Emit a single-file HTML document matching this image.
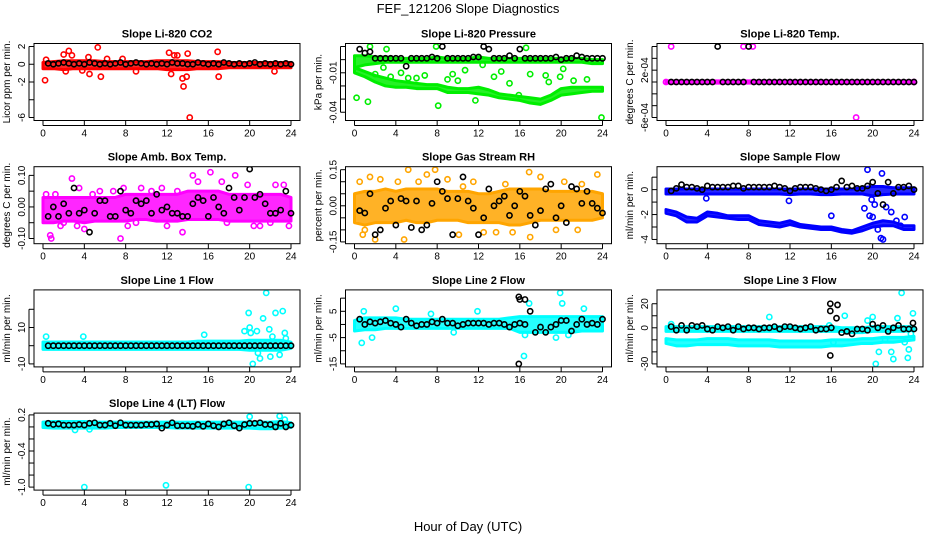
<!DOCTYPE html>
<html><head><meta charset="utf-8">
<style>
html,body{margin:0;padding:0;background:#fff;}
svg{display:block;font-family:"Liberation Sans",sans-serif;}
</style></head>
<body>
<svg id="fig" width="936" height="540" viewBox="0 0 936 540" xmlns="http://www.w3.org/2000/svg">
<text x="468" y="13" text-anchor="middle" font-size="13">FEF_121206  Slope Diagnostics</text>
<text x="468" y="531" text-anchor="middle" font-size="13">Hour of Day (UTC)</text>
</svg>
<script>
// ---------- shared categories ----------
const bandHours = [0,1,2,3,4,5,6,7,8,9,10,11,12,13,14,15,16,17,18,19,20,21,22,23,24];
const xTicks = [0,4,8,12,16,20,24];

// ---------- CO2 ----------
const co2Lo = [-0.5,-0.5,-0.6,-0.5,-0.5,-0.5,-0.5,-0.5,-0.5,-0.5,-0.5,-0.5,-0.6,-0.6,-0.6,-0.5,-0.5,-0.5,-0.4,-0.4,-0.4,-0.4,-0.4,-0.4,-0.4];
const co2Hi = [0.2,0.3,0.4,0.4,0.4,0.4,0.3,0.3,0.3,0.3,0.3,0.4,0.4,0.4,0.4,0.3,0.3,0.3,0.2,0.2,0.2,0.2,0.2,0.2,0.2];
const co2OutX = [0.2,0.3,2.0,2.5,2.8,2.2,4.4,4.5,5.3,5.6,7.7,12.2,12.4,12.7,13.0,13.5,13.6,14.0,14.2,13.9,16.9,17.0,22.4,9.0,3.8,6.2];
const co2OutY = [-1.8,0.5,1.1,1.5,1.0,-0.8,0.8,-1.1,1.9,-1.4,0.6,1.3,-1.1,1.0,1.0,-1.6,-2.5,1.2,-6.0,-1.4,1.4,-1.4,-0.8,-0.8,-0.7,0.6];
const co2Black = [0.1,0.0,0.1,0.2,0.1,0.0,0.1,0.0,0.2,0.1,0.0,0.1,0.0,0.1,0.2,0.0,0.1,0.2,0.1,0.0,0.1,0.0,0.1,0.0,0.2,0.1,0.1,0.0,0.0,0.2,0.1,0.0,0.1,0.0,0.2,0.1,0.0,0.1,0.0,0.1,0.2,0.0,0.1,0.0,0.1,0.0,0.1,0.0];

// ---------- Pressure ----------
const presLo = [-0.006,-0.004,-0.003,-0.002,-0.002,-0.002,-0.002,-0.002,-0.002,-0.002,-0.002,-0.002,-0.002,-0.002,-0.002,-0.002,-0.002,-0.002,-0.002,-0.002,-0.002,-0.002,-0.002,-0.003,-0.003];
const presHi = [0.003,0.003,0.002,0.002,0.001,0.001,0.001,0.001,0.002,0.001,0.001,0.001,0.002,0.001,0.001,0.001,0.001,0.001,0.001,0.001,0.001,0.001,0.001,0.000,0.000];
const pres2Lo = [-0.010,-0.013,-0.017,-0.020,-0.021,-0.021,-0.022,-0.022,-0.022,-0.025,-0.025,-0.025,-0.026,-0.027,-0.029,-0.030,-0.031,-0.033,-0.034,-0.031,-0.027,-0.026,-0.025,-0.024,-0.024];
const pres2Hi = [-0.006,-0.009,-0.012,-0.014,-0.016,-0.017,-0.018,-0.019,-0.019,-0.021,-0.022,-0.022,-0.021,-0.023,-0.026,-0.027,-0.028,-0.029,-0.030,-0.027,-0.022,-0.021,-0.021,-0.021,-0.021];
const presOutX = [0.2,1.5,3.1,7.9,8.1,1.3,9.5,16.6,15.9,23.9,11.7,10.7,12.4,6.0,18.5,20.2,2.8,14.2,19.9,21.2,4.5,6.8,9.0,13.5,17.0,22.5,2.0,3.5,5.2,10.0,15.0,18.8];
const presOutY = [-0.029,0.010,0.008,0.010,-0.035,-0.032,-0.011,0.009,-0.027,-0.044,-0.031,-0.008,-0.004,-0.014,-0.012,-0.007,-0.006,-0.009,-0.013,-0.016,-0.010,-0.012,-0.015,-0.013,-0.011,-0.015,-0.011,-0.013,-0.014,-0.016,-0.018,-0.017];
const presBlack = [0.008,0.005,0.006,0.001,0.001,0.001,0.001,0.001,0.001,-0.005,0.001,0.001,0.001,0.001,0.002,0.001,0.010,0.001,0.001,0.001,0.001,0.001,0.002,0.002,0.010,0.008,0.001,0.001,0.001,0.003,0.001,0.008,0.001,0.001,0.001,0.001,0.001,0.001,0.002,0.000,0.001,0.001,0.003,0.002,0.001,0.001,0.001,0.001];

// ---------- Li-820 Temp ----------
const tempLo = [-0.2e-4,-0.2e-4,-0.2e-4,-0.2e-4,-0.2e-4,-0.2e-4,-0.2e-4,-0.2e-4,-0.2e-4,-0.2e-4,-0.2e-4,-0.2e-4,-0.2e-4,-0.2e-4,-0.2e-4,-0.2e-4,-0.2e-4,-0.2e-4,-0.2e-4,-0.2e-4,-0.2e-4,-0.2e-4,-0.2e-4,-0.2e-4,-0.2e-4];
const tempHi = [0.2e-4,0.2e-4,0.2e-4,0.2e-4,0.2e-4,0.2e-4,0.2e-4,0.2e-4,0.2e-4,0.2e-4,0.2e-4,0.2e-4,0.2e-4,0.2e-4,0.2e-4,0.2e-4,0.2e-4,0.2e-4,0.2e-4,0.2e-4,0.2e-4,0.2e-4,0.2e-4,0.2e-4,0.2e-4];
const tempOutX = [0.5,7.5,8.4,18.4,0.0,24.0];
const tempOutY = [6e-4,6e-4,6e-4,-6e-4,0,0];
const tempBlack = [0,0,0,0,0,0,0,0,0,6e-4,0,0,0,0,0,6e-4,0,0,0,0,0,0,0,0,0,0,0,0,0,0,0,0,0,0,0,0,0,0,0,0,0,0,0,0,0,0,0,0];

// ---------- Amb Box Temp ----------
const ambLo = [-0.05,-0.05,-0.045,-0.045,-0.05,-0.045,-0.045,-0.045,-0.045,-0.04,-0.04,-0.045,-0.045,-0.045,-0.04,-0.04,-0.04,-0.04,-0.045,-0.045,-0.045,-0.045,-0.045,-0.045,-0.045];
const ambHi = [0.03,0.03,0.03,0.03,0.03,0.03,0.03,0.03,0.04,0.04,0.04,0.04,0.04,0.04,0.05,0.05,0.05,0.05,0.04,0.04,0.04,0.04,0.04,0.04,0.03];
const ambOutX = [0.7,0.8,2.8,1.7,3.3,4.0,7.5,7.8,8.2,10.5,12.0,13.5,14.5,16.2,17.3,18.6,19.8,20.4,22.5,23.3,2.0,0.3,5.5,9.5,11.5,15.0,21.0,23.8,6.8,3.5,1.2,4.8,9.0,13.0,17.8,22.0];
const ambOutY = [-0.09,-0.10,0.09,-0.06,-0.06,-0.07,-0.10,0.06,-0.06,0.05,-0.06,-0.08,0.10,0.11,0.08,0.10,0.07,-0.06,0.07,0.07,-0.05,0.04,0.05,0.06,0.06,0.08,-0.06,-0.06,0.05,0.06,0.04,0.04,-0.05,0.05,-0.05,-0.05];
const ambBlack = [-0.03,0.00,-0.03,0.01,-0.02,0.06,-0.02,-0.01,-0.08,-0.02,0.02,0.02,-0.03,-0.03,0.05,-0.01,-0.02,0.02,0.01,0.02,-0.02,0.04,-0.01,0.00,-0.02,-0.02,-0.03,-0.03,0.01,0.03,0.02,-0.03,0.03,0.00,-0.02,0.06,0.03,-0.01,0.03,0.12,0.03,0.04,0.01,-0.02,-0.02,-0.01,0.05,-0.02];

// ---------- Gas Stream RH ----------
const rhLo = [-0.07,-0.08,-0.07,-0.07,-0.07,-0.06,-0.07,-0.07,-0.06,-0.06,-0.06,-0.07,-0.07,-0.07,-0.07,-0.08,-0.08,-0.07,-0.06,-0.06,-0.06,-0.06,-0.06,-0.06,-0.05];
const rhHi = [0.05,0.06,0.06,0.07,0.06,0.07,0.07,0.07,0.07,0.06,0.06,0.06,0.05,0.05,0.06,0.07,0.07,0.07,0.07,0.06,0.06,0.06,0.06,0.06,0.05];
const rhOutX = [0.5,0.8,1.5,2.0,4.8,5.2,7.8,10.1,10.5,13.7,16.9,17.0,19.5,23.5,2.5,6.2,9.0,11.5,14.6,18.0,20.3,22.0,1.0,4.2,12.5,15.3,21.6,7.0];
const rhOutY = [0.10,-0.12,0.12,-0.14,-0.14,0.15,0.15,-0.12,0.08,-0.11,0.14,-0.13,-0.10,0.13,0.11,0.10,0.11,0.10,0.09,0.12,0.10,0.09,-0.10,0.10,-0.11,-0.11,-0.10,0.13];
const rhBlack = [-0.02,-0.03,0.05,-0.12,-0.10,-0.01,0.02,-0.08,0.03,0.02,-0.09,0.02,-0.10,-0.08,0.01,0.10,0.06,0.03,-0.12,0.03,0.12,0.02,-0.01,-0.12,-0.05,0.07,0.00,0.02,0.04,-0.04,0.00,0.06,0.04,-0.04,-0.08,-0.02,0.07,0.09,-0.05,0.00,-0.07,0.08,0.07,0.01,0.06,0.01,-0.01,-0.03];

// ---------- Sample Flow ----------
const sfLo = [-0.35,-0.35,-0.35,-0.35,-0.35,-0.35,-0.35,-0.35,-0.35,-0.35,-0.35,-0.35,-0.4,-0.35,-0.35,-0.4,-0.4,-0.35,-0.35,-0.35,-0.5,-0.4,-0.35,-0.35,-0.35];
const sfHi = [0.05,0.05,0.05,0.05,0.05,0.05,0.05,0.05,0.05,0.05,0.05,0.05,0.05,0.05,0.05,0.05,0.05,0.05,0.05,0.15,0.25,0.25,0.15,0.15,0.15];
const sf2Lo = [-1.9,-2.1,-2.6,-2.6,-2.1,-2.2,-2.3,-2.4,-2.4,-2.8,-2.9,-3.0,-2.8,-3.0,-3.1,-3.2,-3.2,-3.4,-3.5,-3.3,-3.0,-2.9,-2.9,-3.2,-3.2];
const sf2Hi = [-1.6,-1.8,-2.2,-2.3,-1.8,-1.9,-2.1,-2.1,-2.1,-2.5,-2.6,-2.7,-2.5,-2.8,-2.9,-3.0,-3.0,-3.2,-3.3,-3.0,-2.7,-2.5,-2.6,-2.9,-2.9];
const sfOutX = [19.5,20.9,20.8,20.5,21.0,16.0,3.9,11.9,19.2,19.7,21.8,22.3,23.1,22.7,20.2,19.9,20.0,21.3];
const sfOutY = [1.6,1.3,-3.9,-3.2,-4.0,-2.1,-0.7,-0.9,-1.5,-2.1,-1.8,-2.5,-2.2,-2.9,-1.2,-0.8,-2.2,-1.4];
const sfBlack = [-0.1,0.1,0.4,0.2,0.2,0.1,0.0,0.3,0.2,0.2,0.2,0.2,0.3,0.3,0.1,0.2,0.2,0.2,0.2,0.2,0.3,0.2,0.1,-0.1,0.1,0.2,0.2,0.2,0.1,0.0,-0.1,0.0,0.2,0.7,0.2,0.3,0.1,0.1,0.3,0.6,-0.3,-1.2,0.6,-0.3,0.2,0.2,0.3,0.0];

// ---------- Line 1 Flow ----------
const l1Lo = [-2,-2,-2,-2,-2,-2,-2,-2,-2,-2,-2,-2,-2,-2,-2,-2,-2,-2,-2,-2,-2.5,-2.5,-2.5,-2.5,-1.5];
const l1Hi = [2,2,2,2,2,2,2,2,2,2,2,2,2,2,2,2.5,2.5,2.5,2.5,2.5,3,3,3,3,2];
const l1OutX = [0.3,3.9,15.6,19.5,19.9,20.0,20.1,20.3,20.7,21.3,21.6,21.9,22.0,22.5,22.9,23.2,23.4,23.5,20.8,21.0,22.2];
const l1OutY = [5,5,6,8,18,10,7,-10,8,15,29,9,-6,18,-5,19,7,4,-4,-7,5];
const l1Black = [0,0,0,0,0,0,0,0,0,0,0,0,0,0,0,0,0,0,0,0,0,0,0,0,0,0,0,0,0,0,0,0,0,0,0,0,0,0,0,0,0,0,0,0,0,0,0,0];

// ---------- Line 2 Flow ----------
const l2Lo = [-2.5,-2,-2,-1.5,-1.5,-1.5,-1.5,-1.5,-1.5,-1.5,-1.5,-1.5,-1.5,-1.5,-1.5,-1.5,-3,-3,-3,-3,-3,-3,-2.5,-2.5,-2.5];
const l2Hi = [1.5,2.5,2.5,2.5,2.5,2,2,2,2,2,2,2,2,2,2,2.5,3,3,3,3,3,3,3,3,3];
const l2OutX = [0.7,0.9,4.0,11.9,16.4,16.9,19.9,20.1,22.2,16.5,19.5,20.7,1.7,9.6,7.4];
const l2OutY = [-7,5,6,5,-12,8,12,8,6,-4,-5,-4,-5,-3,4];
const l2Black = [2,0,1,0.5,1,1.5,0.5,0,-1,2,0.5,-0.5,0,0,1,0.5,2,0.5,0.5,-0.5,0,0.5,0.5,0.5,0.5,0,0.5,0.5,0,-1,0,0.5,0,5,-3,-1,-3,-1,0,1.5,1.5,-2.5,0,2,0,0.5,0,2];
const l2BOutX = [15.9,16.0,16.5,15.9];
const l2BOutY = [10.5,9.5,9.5,-15];

// ---------- Line 3 Flow ----------
const l3Lo = [-3,-3,-3,-3,-3,-3,-3,-3,-3,-3,-3,-3,-3,-3,-3,-3,-3,-3,-4,-4,-3,-3,-3,-3,-2];
const l3Hi = [1,1,1,1,1,1,1,1,1,1,1,1,1,1,1,1,1,0,0,0,1,1,1,1,1];
const l3bLo = [-13,-15,-15,-14,-14,-14,-14,-15,-15,-15,-15,-16,-16,-16,-16,-16,-15,-15,-14,-13,-13,-12,-12,-11,-10];
const l3bHi = [-9,-10,-10,-10,-9,-9,-9,-10,-10,-10,-10,-11,-11,-11,-11,-11,-10,-10,-10,-9,-9,-8,-8,-8,-7];
const l3OutX = [10,15.8,16.2,17.3,19.5,20.0,20.3,20.6,21.2,21.8,22.0,22.4,22.8,23.1,23.4,23.5,23.7,23.9,0.5];
const l3OutY = [9,2,-12,10,6,9,-30,-20,-10,-20,-26,8,29,-12,-25,-18,-5,12,3];
const l3Black = [1,-2,2,-2,2,1,2,-1,-2,1,0,1,-2,1,-1,0,0,-1,0,0,1,-1,1,1,0,-1,0,1,-2,-1,-1,0,8,-4,-3,-5,-1,-1,-2,3,0,2,-3,0,2,-1,-1,-1];
const l3BOutX = [15.9,15.9,16.6,15.9,23.9];
const l3BOutY = [20,14,19,-23,4];

// ---------- Line 4 (LT) Flow ----------
const l4Lo = [-0.01,-0.02,-0.02,-0.02,-0.02,-0.02,-0.02,-0.01,-0.01,-0.01,-0.01,-0.01,-0.01,-0.02,-0.02,-0.02,-0.02,-0.02,-0.02,-0.02,-0.02,-0.03,-0.03,-0.02,-0.01];
const l4Hi = [0.08,0.09,0.09,0.09,0.09,0.08,0.08,0.08,0.08,0.08,0.08,0.08,0.08,0.08,0.08,0.08,0.08,0.08,0.08,0.08,0.08,0.08,0.08,0.09,0.07];
const l4OutX = [4.0,11.9,19.9,20.0,22.9,3.1,4.5,23.4];
const l4OutY = [-1.0,-0.97,-1.0,0.17,0.18,-0.05,-0.04,0.12];
const l4Black = [0.06,0.04,0.05,0.03,0.03,0.03,0.04,0.03,0.06,0.07,0.03,0.03,0.06,0.02,0.07,0.03,0.03,0.03,0.03,0.04,0.04,0.05,-0.02,0.03,0.07,0.02,0.02,0.02,0.01,0.04,0.01,0.05,0.02,0.00,0.05,0.07,0.02,-0.02,0.04,0.06,0.06,0.07,0.04,0.04,0.00,0.06,0.00,0.03];

// ---------- rendering ----------
const NS = 'http://www.w3.org/2000/svg';
const svg = document.getElementById('fig');
function mk(tag, attrs, parent){ const e=document.createElementNS(NS,tag); for(const k in attrs) e.setAttribute(k,attrs[k]); (parent||svg).appendChild(e); return e; }
const blackHours = [];
for(let i=1;i<=48;i++) blackHours.push(i*0.5);

const panels = [
 {key:'co2',r:0,c:0,title:'Slope Li-820 CO2',ylab:'Licor ppm per min.',col:'#ff0000',yt:[-6,-4,-2,0,2],yl:['-6','','-2','0','2'],ymin:-6,ymax:2,bands:[[co2Lo,co2Hi]],ox:co2OutX,oy:co2OutY,blk:co2Black},
 {key:'pressure',r:0,c:1,title:'Slope Li-820 Pressure',ylab:'kPa per min.',col:'#00ee00',yt:[0.01,0,-0.01,-0.02,-0.03,-0.04],yl:['','','-0.01','','','-0.04'],ymin:-0.044,ymax:0.01,bands:[[presLo,presHi],[pres2Lo,pres2Hi]],ox:presOutX,oy:presOutY,blk:presBlack},
 {key:'li820-temp',r:0,c:2,title:'Slope Li-820 Temp.',ylab:'degrees C per min.',col:'#ff00ff',yt:[-6e-4,-4e-4,-2e-4,0,2e-4,4e-4,6e-4],yl:['-6e-04','','','','2e-04','',''],ymin:-6e-4,ymax:6e-4,bands:[[tempLo,tempHi]],ox:tempOutX,oy:tempOutY,blk:tempBlack},
 {key:'amb-box-temp',r:1,c:0,title:'Slope Amb. Box Temp.',ylab:'degrees C per min.',col:'#ff00ff',yt:[-0.1,-0.05,0,0.05,0.1],yl:['-0.10','','0.00','','0.10'],ymin:-0.107,ymax:0.118,bands:[[ambLo,ambHi]],ox:ambOutX,oy:ambOutY,blk:ambBlack},
 {key:'gas-stream-rh',r:1,c:1,title:'Slope Gas Stream RH',ylab:'percent per min.',col:'#ffa500',yt:[-0.15,-0.1,-0.05,0,0.05,0.1,0.15],yl:['-0.15','','','0.00','','','0.15'],ymin:-0.145,ymax:0.15,bands:[[rhLo,rhHi]],ox:rhOutX,oy:rhOutY,blk:rhBlack},
 {key:'sample-flow',r:1,c:2,title:'Slope Sample Flow',ylab:'ml/min per min.',col:'#0000ff',yt:[-4,-3,-2,-1,0,1],yl:['-4','','-2','','0',''],ymin:-4.1,ymax:1.6,bands:[[sfLo,sfHi],[sf2Lo,sf2Hi]],ox:sfOutX,oy:sfOutY,blk:sfBlack},
 {key:'line1-flow',r:2,c:0,title:'Slope Line 1 Flow',ylab:'ml/min per min.',col:'#00ffff',yt:[-10,0,10,20],yl:['-10','','10',''],ymin:-10,ymax:29,bands:[[l1Lo,l1Hi]],ox:l1OutX,oy:l1OutY,blk:l1Black},
 {key:'line2-flow',r:2,c:1,title:'Slope Line 2 Flow',ylab:'ml/min per min.',col:'#00ffff',yt:[-15,-10,-5,0,5,10],yl:['-15','','-5','','5',''],ymin:-15,ymax:12,bands:[[l2Lo,l2Hi]],ox:l2OutX,oy:l2OutY,blk:l2Black,bx:l2BOutX,by:l2BOutY},
 {key:'line3-flow',r:2,c:2,title:'Slope Line 3 Flow',ylab:'ml/min per min.',col:'#00ffff',yt:[-30,-20,-10,0,10,20],yl:['-30','','','0','','20'],ymin:-30,ymax:29,bands:[[l3Lo,l3Hi],[l3bLo,l3bHi]],ox:l3OutX,oy:l3OutY,blk:l3Black,bx:l3BOutX,by:l3BOutY},
 {key:'line4-flow',r:3,c:0,title:'Slope Line 4 (LT) Flow',ylab:'ml/min per min.',col:'#00ffff',yt:[-1.0,-0.8,-0.6,-0.4,-0.2,0,0.2],yl:['-1.0','','','-0.4','','','0.2'],ymin:-1.0,ymax:0.18,bands:[[l4Lo,l4Hi]],ox:l4OutX,oy:l4OutY,blk:l4Black}
];

const boxW = 266, boxH = 77;
panels.forEach(p=>{
  const bx = 34 + p.c*311.5, by = 43.5 + p.r*123.2;
  const x0 = bx+9, x1 = bx+257;
  const yT = by+3, yB = by+boxH-3;
  const xs = h => x0 + (h/24)*(x1-x0);
  const ys = v => yB - (v-p.ymin)/(p.ymax-p.ymin)*(yB-yT);
  const g = mk('g',{});
  
  
  const t = mk('text',{x:bx+boxW/2,y:by-6,'text-anchor':'middle','font-size':11,'font-weight':'bold'},g);
  t.textContent = p.title;
  
  
  const yl = mk('text',{x:0,y:0,'text-anchor':'middle','font-size':10,transform:`translate(${bx-24},${by+boxH/2}) rotate(-90)`},g);
  yl.textContent = p.ylab;
  
  
  const cid = 'clip-'+p.key;
  const cp = mk('clipPath',{id:cid},g); mk('rect',{x:bx,y:by,width:boxW,height:boxH},cp);
  const plot = mk('g',{'clip-path':`url(#${cid})`},g);
  
  
  p.bands.forEach((b,bi)=>{
    let pts=[];
    bandHours.forEach((h,i)=>pts.push(xs(h)+','+ys(b[1][i])));
    for(let i=bandHours.length-1;i>=0;i--) pts.push(xs(bandHours[i])+','+ys(b[0][i]));
    const pg = mk('polygon',{points:pts.join(' '),fill:p.col,stroke:p.col,'stroke-width':3,'stroke-linejoin':'round','fill-opacity':0.85},plot);
    
    
  });
  p.ox.forEach((h,i)=>{
    const m = mk('circle',{cx:xs(h),cy:ys(p.oy[i]),r:2.6,fill:'none',stroke:p.col,'stroke-width':1.6},plot);
    
    
  });
  p.blk.forEach((v,i)=>{
    const m = mk('circle',{cx:xs(blackHours[i]),cy:ys(v),r:2.6,fill:'none',stroke:'#000','stroke-width':1.6},plot);
    
    
  });
  if(p.bx) p.bx.forEach((h,i)=>{
    const m = mk('circle',{cx:xs(h),cy:ys(p.by[i]),r:2.6,fill:'none',stroke:'#000','stroke-width':1.6},plot);
    
    
  });
  const box = mk('rect',{x:bx,y:by,width:boxW,height:boxH,fill:'none',stroke:'#000','stroke-width':1},g);
  
  
  xTicks.forEach(h=>{
    mk('line',{x1:xs(h),x2:xs(h),y1:by+boxH,y2:by+boxH+5,stroke:'#000'},g);
    const tl = mk('text',{x:xs(h),y:by+boxH+16,'text-anchor':'middle','font-size':10},g);
    tl.textContent = h;
    
    
  });
  mk('line',{x1:xs(0),x2:xs(24),y1:by+boxH+5,y2:by+boxH+5,stroke:'#000'},g);
  p.yt.forEach((v,i)=>{
    mk('line',{x1:bx-5,x2:bx,y1:ys(v),y2:ys(v),stroke:'#000'},g);
    if(p.yl[i]){
      const tl = mk('text',{x:0,y:0,'text-anchor':'middle','font-size':10,transform:`translate(${bx-9},${ys(v)}) rotate(-90)`},g);
      tl.textContent = p.yl[i];
      
      
    }
  });
  mk('line',{x1:bx-5,x2:bx-5,y1:ys(p.yt[0]),y2:ys(p.yt[p.yt.length-1]),stroke:'#000'},g);
});
</script>
</body></html>
